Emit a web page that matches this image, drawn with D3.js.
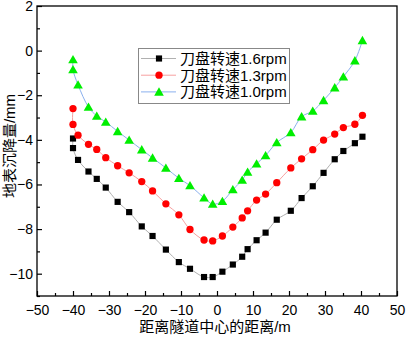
<!DOCTYPE html>
<html><head><meta charset="utf-8">
<script src="https://cdn.jsdelivr.net/npm/d3@7"></script>
<style>body{margin:0;background:#fff}svg{display:block}text{font-family:Arial,"Liberation Sans","Noto Sans CJK SC",sans-serif}</style>
</head><body>
<script>
const xs = [-40,-40,-38.6,-35.7,-33.4,-30.9,-27.6,-24.4,-20.9,-17.9,-14.2,-10.6,-7.5,-3.6,-1.2,1.5,4.4,7.0,8.5,11.0,13.5,16.6,20.5,23.5,26.6,29.6,32.7,35.1,38.3,40.4];
const s16 = [-3.94,-4.37,-4.9,-5.42,-5.75,-6.14,-6.78,-7.24,-7.88,-8.31,-8.92,-9.48,-9.78,-10.15,-10.15,-9.91,-9.59,-9.24,-8.9,-8.5,-8.16,-7.58,-7.18,-6.61,-6.08,-5.48,-4.87,-4.5,-4.15,-3.86];
const s13 = [-2.6,-3.31,-3.79,-4.2,-4.43,-4.8,-5.16,-5.48,-5.87,-6.29,-6.87,-7.36,-8.02,-8.49,-8.53,-8.31,-7.91,-7.5,-7.18,-6.7,-6.43,-5.92,-5.26,-4.85,-4.44,-4.01,-3.74,-3.45,-3.3,-2.9];
const s10 = [-0.4,-0.85,-1.53,-2.53,-2.93,-3.2,-3.62,-4.01,-4.44,-4.81,-5.26,-5.72,-6.05,-6.6,-6.88,-6.75,-6.23,-5.8,-5.44,-5.07,-4.7,-4.12,-3.67,-2.96,-2.71,-2.23,-1.66,-1.17,-0.45,0.46];
const seriesNames = ["刀盘转速1.6rpm","刀盘转速1.3rpm","刀盘转速1.0rpm"];
const xTicks = [-50,-40,-30,-20,-10,0,10,20,30,40,50];
const yTicks = [-10,-8,-6,-4,-2,0,2];
const xLabel = "距离隧道中心的距离/m";
const yLabel = "地表沉降量/mm";

const W=406,H=341;
const svg=d3.select("body").append("svg").attr("width",W).attr("height",H);
const x=d3.scaleLinear().domain([-50,50]).range([37,397]);
const y=d3.scaleLinear().domain([-11,2]).range([296,6]);

const styles=[
 {vals:s16, line:"#b0b0b0", fill:"#000", shape:d3.symbolSquare, size:38},
 {vals:s13, line:"#f7a0a0", fill:"#ff0000", shape:d3.symbolCircle, size:42},
 {vals:s10, line:"#8ab0ee", fill:"#00ee00", shape:d3.symbolTriangle, size:40}
];

const line=d3.line().curve(d3.curveCatmullRom.alpha(0.5)).x(d=>x(d[0])).y(d=>y(d[1]));
styles.forEach(s=>{
  const pts=xs.map((v,i)=>[v,s.vals[i]]);
  svg.append("path").attr("d",line(pts)).attr("fill","none").attr("stroke",s.line).attr("stroke-width",1);
});
styles.forEach(s=>{
  const pts=xs.map((v,i)=>[v,s.vals[i]]);
  svg.append("g").selectAll("path").data(pts).join("path")
    .attr("d",d3.symbol().type(s.shape).size(s.size))
    .attr("transform",d=>`translate(${x(d[0])},${y(d[1])+(s.shape===d3.symbolTriangle?1:0)})`)
    .attr("fill",s.fill);
});

// frame
svg.append("rect").attr("x",37).attr("y",6).attr("width",360).attr("height",290)
  .attr("fill","none").attr("stroke","#000").attr("stroke-width",1.3);

// bottom axis
const gx=svg.append("g").attr("transform","translate(0,296)");
gx.call(d3.axisBottom(x).tickValues(xTicks).tickSizeInner(-5).tickSizeOuter(0).tickPadding(9));
gx.append("g").call(d3.axisBottom(x).tickValues(d3.range(-45,50,10)).tickSizeInner(-3).tickSizeOuter(0).tickFormat(""));
// left axis
const gy=svg.append("g").attr("transform","translate(37,0)");
gy.call(d3.axisLeft(y).tickValues(yTicks).tickSizeInner(-5).tickSizeOuter(0).tickPadding(4));
gy.append("g").call(d3.axisLeft(y).tickValues([-11,-9,-7,-5,-3,-1,1]).tickSizeInner(-3).tickSizeOuter(0).tickFormat(""));
svg.selectAll(".domain").remove();
svg.selectAll(".tick line").attr("stroke","#000").attr("stroke-width",1.2);
svg.selectAll(".tick text").attr("font-size",14).attr("fill","#000").style("font-family","Arial,'Liberation Sans',sans-serif");

svg.append("text").attr("x",215).attr("y",332).attr("text-anchor","middle").attr("font-size",15).text(xLabel);
svg.append("text").attr("transform","translate(15,146) rotate(-90)").attr("text-anchor","middle").attr("font-size",15).text(yLabel);

// legend
const lg=svg.append("g");
lg.append("rect").attr("x",138.5).attr("y",48.5).attr("width",151).attr("height",55).attr("fill","#fff").attr("stroke","#888").attr("stroke-width",1);
styles.forEach((s,i)=>{
  const cy=58.5+i*16.7;
  lg.append("line").attr("x1",141).attr("x2",176).attr("y1",cy).attr("y2",cy).attr("stroke",s.line).attr("stroke-width",1);
  lg.append("path").attr("d",d3.symbol().type(s.shape).size(s.size)).attr("transform",`translate(159,${cy+(s.shape===d3.symbolTriangle?1:0)})`).attr("fill",s.fill);
  lg.append("text").attr("x",180).attr("y",cy+5.5).attr("font-size",15).text(seriesNames[i]);
});
</script>
</body></html>
